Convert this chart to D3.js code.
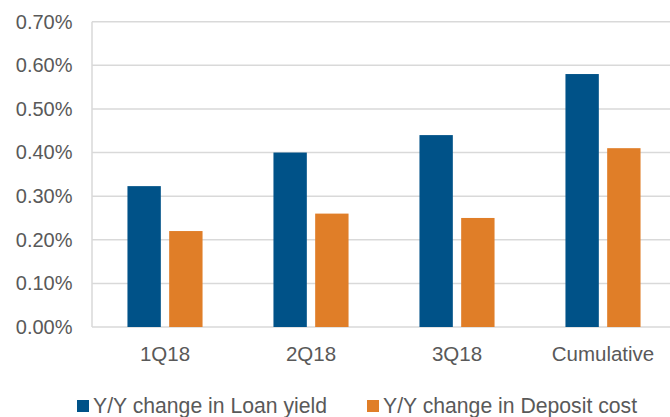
<!DOCTYPE html>
<html>
<head>
<meta charset="utf-8">
<script src="https://cdn.jsdelivr.net/npm/d3@7"></script>
<style>
  body { margin: 0; background: #fff; }
  svg text { font-family: "Liberation Sans", Arial, sans-serif; fill: #595959; }
</style>
</head>
<body>
<div id="chart"></div>
<script>
// chart data
const categories = ["1Q18", "2Q18", "3Q18", "Cumulative"];
const seriesNames = ["Y/Y change in Loan yield", "Y/Y change in Deposit cost"];
const loanYield = [0.323, 0.40, 0.44, 0.58];
const depositCost = [0.22, 0.26, 0.25, 0.41];
const yTicks = [0, 0.1, 0.2, 0.3, 0.4, 0.5, 0.6, 0.7];
const colors = ["#005288", "#e07e28"];

const width = 670, height = 417;
const plotLeft = 92, plotRight = 676, plotTop = 21.7, plotBottom = 327;

const svg = d3.select("#chart").append("svg")
  .attr("width", width)
  .attr("height", height);

const y = d3.scaleLinear()
  .domain([0, 0.7])
  .range([plotBottom, plotTop]);

const x0 = d3.scaleBand()
  .domain(categories)
  .range([plotLeft, plotRight]);

const x1 = d3.scaleBand()
  .domain(seriesNames)
  .range([0, x0.bandwidth()])
  .paddingInner(0.2)
  .paddingOuter(0.85);

// gridlines
svg.append("g")
  .selectAll("line")
  .data(yTicks)
  .enter()
  .append("line")
  .attr("x1", plotLeft)
  .attr("x2", plotRight)
  .attr("y1", d => y(d))
  .attr("y2", d => y(d))
  .attr("stroke", "#d9d9d9")
  .attr("stroke-width", 1.5);

// left axis line
svg.append("line")
  .attr("x1", plotLeft).attr("x2", plotLeft)
  .attr("y1", plotTop).attr("y2", plotBottom)
  .attr("stroke", "#d9d9d9")
  .attr("stroke-width", 1.5);

// y axis labels
svg.append("g")
  .call(d3.axisLeft(y).tickValues(yTicks).tickSize(0).tickPadding(0)
    .tickFormat(d => d.toFixed(2) + "%"))
  .attr("transform", "translate(" + (plotLeft - 19.5) + ",0)")
  .call(g => g.select(".domain").remove())
  .selectAll("text")
  .attr("font-size", "20px")
  .attr("fill", "#595959");

// bars
const rows = categories.map((c, i) => ({ cat: c, vals: [loanYield[i], depositCost[i]] }));

svg.append("g")
  .selectAll("g")
  .data(rows)
  .enter()
  .append("g")
  .attr("transform", d => "translate(" + x0(d.cat) + ",0)")
  .selectAll("rect")
  .data(d => d.vals.map((v, j) => ({ name: seriesNames[j], v: v, j: j })))
  .enter()
  .append("rect")
  .attr("x", d => x1(d.name))
  .attr("y", d => y(d.v))
  .attr("width", x1.bandwidth())
  .attr("height", d => plotBottom - y(d.v))
  .attr("fill", d => colors[d.j]);

// x axis labels
svg.append("g")
  .attr("transform", "translate(0," + plotBottom + ")")
  .call(d3.axisBottom(x0).tickSize(0).tickPadding(19))
  .call(g => g.select(".domain").remove())
  .selectAll("text")
  .attr("font-size", "20.5px")
  .attr("fill", "#595959");

// legend
const legendX = [77, 367];
const legend = svg.append("g")
  .selectAll("g")
  .data(seriesNames)
  .enter()
  .append("g")
  .attr("transform", (d, i) => "translate(" + legendX[i] + ",400)");

legend.append("rect")
  .attr("width", 12)
  .attr("height", 12)
  .attr("fill", (d, i) => colors[i]);

legend.append("text")
  .attr("x", 16)
  .attr("y", 12.5)
  .attr("font-size", "21.2px")
  .text(d => d);
</script>
</body>
</html>
